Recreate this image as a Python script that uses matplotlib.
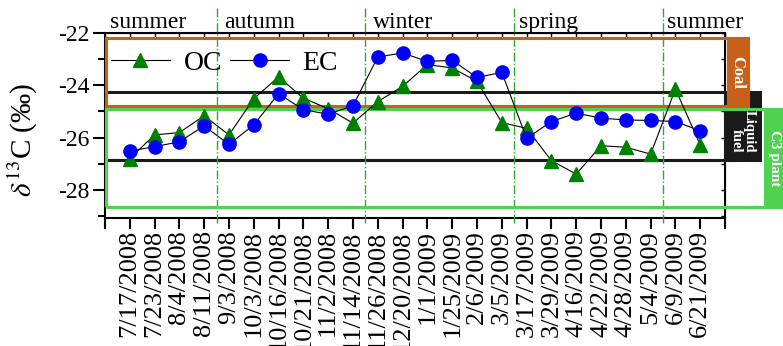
import matplotlib
matplotlib.use("Agg")
import matplotlib.pyplot as plt
from matplotlib.patches import Rectangle
from matplotlib.ticker import MultipleLocator

plt.rcParams['font.family'] = ['Liberation Serif', 'DejaVu Serif']
plt.rcParams['mathtext.fontset'] = 'stix'
plt.rcParams['axes.unicode_minus'] = False

# sampling dates and d13C values
dates = ["7/17/2008", "7/23/2008", "8/4/2008", "8/11/2008", "9/3/2008",
         "10/3/2008", "10/16/2008", "10/21/2008", "11/2/2008", "11/14/2008",
         "11/26/2008", "12/20/2008", "1/1/2009", "1/25/2009", "2/6/2009",
         "3/5/2009", "3/17/2009", "3/29/2009", "4/16/2009", "4/22/2009",
         "4/28/2009", "5/4/2009", "6/9/2009", "6/21/2009"]
oc = [-26.8, -25.9, -25.81, -25.17, -25.9, -24.52, -23.69, -24.5, -24.9, -25.45,
      -24.63, -24.05, -23.22, -23.35, -23.86, -25.43, -25.65, -26.88, -27.39, -26.31,
      -26.37, -26.63, -24.15, -26.28]
ec = [-26.51, -26.35, -26.16, -25.56, -26.26, -25.52, -24.33, -24.94, -25.11, -24.79,
      -22.93, -22.78, -23.1, -23.06, -23.71, -23.52, -26.03, -25.39, -25.07, -25.26,
      -25.33, -25.35, -25.39, -25.74]

# source ranges (per mil)
coal_range = (-24.8, -22.2)
liquid_range = (-26.86, -24.28)
c3_range = (-28.64, -24.9)

seasons = ["summer", "autumn", "winter", "spring", "summer"]
season_x = [0.2, 4.8, 10.8, 16.7, 22.66]
season_breaks = [4.5, 10.5, 16.5, 22.5]

coal_c = '#C8601A'
liq_c = '#1A1A1A'
c3_c = '#4FD24F'

fig = plt.figure(figsize=(7.83, 3.46), dpi=100)
ax = fig.add_axes([0.134, 0.371, 0.792, 0.535])

x = list(range(1, len(dates) + 1))
ax.set_xlim(0, 25)
ax.set_ylim(-29.05, -22)

# outlined source ranges, running out to their labels on the right
ax.add_patch(Rectangle((0.04, liquid_range[0]), 25.5, liquid_range[1] - liquid_range[0],
                       fill=False, ec=liq_c, lw=2.2, clip_on=False, zorder=2))
ax.add_patch(Rectangle((24.95, -26.93), 1.54, 2.71, fc=liq_c, ec='none',
                       clip_on=False, zorder=3))
ax.add_patch(Rectangle((0.04, coal_range[0]), 25.89, coal_range[1] - coal_range[0],
                       fill=False, ec=coal_c, lw=2.2, clip_on=False, zorder=4))
ax.add_patch(Rectangle((25.08, coal_range[0]), 0.85, coal_range[1] - coal_range[0],
                       fc=coal_c, ec='none', clip_on=False, zorder=4))
ax.add_patch(Rectangle((0.04, c3_range[0]), 28, c3_range[1] - c3_range[0],
                       fill=False, ec=c3_c, lw=2.2, clip_on=False, zorder=5))
ax.add_patch(Rectangle((26.57, -28.69), 1.5, 3.82, fc=c3_c, ec='none',
                       clip_on=False, zorder=5))

ax.text(25.5, -23.53, "Coal", color='white', fontsize=12, fontweight='bold',
        rotation=-90, ha='center', va='center', zorder=6, clip_on=False)
ax.text(25.72, -25.77, "Liquid\nfuel", color='white', fontsize=10.5, fontweight='bold',
        rotation=-90, ha='center', va='center', multialignment='right',
        linespacing=1.0, zorder=6, clip_on=False)
ax.text(26.98, -26.8, "C3 plant", color='white', fontsize=11, fontweight='bold',
        rotation=-90, ha='center', va='center', zorder=6, clip_on=False)

# season dividers and names
for xb in season_breaks:
    ax.plot([xb, xb], [-29.27, -21.0], color='#2EA82E', lw=1, ls='-.',
            clip_on=False, zorder=3)
for name, xs in zip(seasons, season_x):
    ax.text(xs, -21.82, name, fontsize=17, ha='left', va='baseline')

ax.plot(x, oc, color='black', lw=0.8, marker='^', ms=10, mfc='green', mec='green',
        label='OC', zorder=7)
ax.plot(x, ec, color='black', lw=0.8, marker='o', ms=9.5, mfc='blue', mec='blue',
        label='EC', zorder=8)

ax.legend(loc='upper left', bbox_to_anchor=(-0.03, 1.04), ncol=2, frameon=False,
          fontsize=20, handlelength=2.1, handletextpad=0.5, columnspacing=0.3)

ax.set_xticks(range(0, 26))
ax.set_xticklabels([''] + dates + [''], rotation=90, fontsize=19)
ax.yaxis.set_major_locator(MultipleLocator(2))
ax.yaxis.set_minor_locator(MultipleLocator(1))
ax.tick_params(axis='x', direction='out', length=8, width=1.5, pad=1)
ax.tick_params(axis='y', which='major', direction='out', length=9, width=1.5,
               labelsize=17, pad=2)
ax.tick_params(axis='y', which='minor', direction='out', length=5, width=1.5)
ax.set_ylabel(r'$\delta^{13}$C (‰)', fontsize=21)
ax.yaxis.set_label_coords(-0.105, 0.42)
for s in ax.spines.values():
    s.set_linewidth(1.5)

# small inward ticks on the top and right frame
top = ax.secondary_xaxis('top')
top.set_xticks(range(0, 26))
top.tick_params(direction='in', length=3, width=1, labeltop=False)
right = ax.secondary_yaxis('right')
right.yaxis.set_major_locator(MultipleLocator(2))
right.yaxis.set_minor_locator(MultipleLocator(1))
right.tick_params(which='both', direction='in', length=3, width=1, labelright=False)

fig.savefig('out.png', dpi=100)
